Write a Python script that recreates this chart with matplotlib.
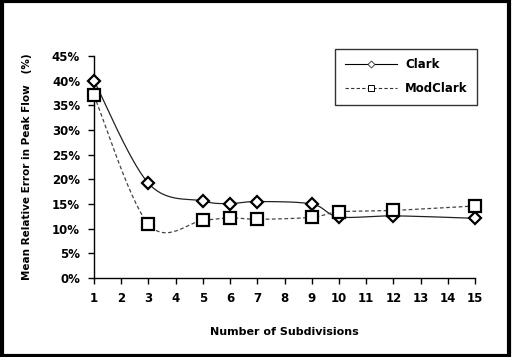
import numpy as np
import matplotlib
matplotlib.use("Agg")
import matplotlib.pyplot as plt
from matplotlib.patches import Rectangle
from matplotlib.ticker import MultipleLocator, FuncFormatter

subdivisions = [1, 3, 5, 6, 7, 9, 10, 12, 15]
clark = [40.0, 19.2, 15.6, 15.1, 15.5, 15.0, 12.4, 12.6, 12.1]
modclark = [37.0, 10.9, 11.7, 12.2, 11.9, 12.3, 13.4, 13.7, 14.6]


def smooth(x, y, n=30, t=0.5):
    # Excel-like smoothed line: cardinal spline through the points
    x = np.asarray(x, float)
    y = np.asarray(y, float)
    px = np.concatenate([[x[0]], x, [x[-1]]])
    py = np.concatenate([[y[0]], y, [y[-1]]])
    xs, ys = [], []
    for i in range(1, len(px) - 2):
        p0 = np.array([px[i], py[i]])
        p3 = np.array([px[i + 1], py[i + 1]])
        p1 = p0 + (np.array([px[i + 1], py[i + 1]]) - np.array([px[i - 1], py[i - 1]])) * t / 3
        p2 = p3 - (np.array([px[i + 2], py[i + 2]]) - np.array([px[i], py[i]])) * t / 3
        s = np.linspace(0, 1, n)[:, None]
        b = (1 - s) ** 3 * p0 + 3 * (1 - s) ** 2 * s * p1 + 3 * (1 - s) * s ** 2 * p2 + s ** 3 * p3
        xs.extend(b[:, 0])
        ys.extend(b[:, 1])
    return np.array(xs), np.array(ys)


fig = plt.figure(figsize=(5.13, 3.57), dpi=100)
ax = fig.add_axes([94 / 513, 1 - 278 / 357, (475 - 94) / 513, (278 - 56) / 357])

cx, cy = smooth(subdivisions, clark)
mx, my = smooth(subdivisions, modclark)
ax.plot(cx, cy, color="#222222", lw=0.9)
ax.plot(mx, my, color="#444444", lw=0.9, ls=(0, (3, 2)))
ax.plot(subdivisions, clark, ls="none", marker="D", ms=6.5, mfc="white",
        mec="black", mew=1.6, clip_on=False, zorder=5)
ax.plot(subdivisions, modclark, ls="none", marker="s", ms=8, mfc="white",
        mec="black", mew=1.6, clip_on=False, zorder=5)

# legend entries
ax.plot([], [], color="black", lw=0.8, marker="D", ms=3.5, mfc="white",
        mec="#444444", mew=0.7, label="Clark")
ax.plot([], [], color="#333333", lw=0.8, ls=(0, (3, 2)), marker="s", ms=5,
        mfc="white", mec="black", mew=0.7, label="ModClark")
handles, labels = ax.get_legend_handles_labels()
leg = ax.legend(handles[-2:], labels[-2:], loc="upper right",
                bbox_to_anchor=((477 - 94) / 381, (278 - 49) / 222),
                borderaxespad=0, frameon=True, fancybox=False,
                edgecolor="black", handlelength=4.4, handletextpad=0.7,
                borderpad=0.8, labelspacing=0.9,
                prop={"weight": "bold", "size": 8.5})
leg.get_frame().set_linewidth(1.0)

ax.set_xlim(1, 15)
ax.set_ylim(0, 45)
ax.xaxis.set_major_locator(MultipleLocator(1))
ax.yaxis.set_major_locator(MultipleLocator(5))
ax.yaxis.set_major_formatter(FuncFormatter(lambda v, p: "%d%%" % v))
ax.spines["top"].set_visible(False)
ax.spines["right"].set_visible(False)
for s in ("left", "bottom"):
    ax.spines[s].set_linewidth(1.0)
ax.tick_params(direction="out", length=4, width=1, labelsize=8.5, pad=6)
for lab in ax.get_xticklabels() + ax.get_yticklabels():
    lab.set_fontweight("bold")

ax.set_xlabel("Number of Subdivisions", fontsize=8, fontweight="bold", labelpad=16)
ax.set_ylabel("Mean Relative Error in Peak Flow   (%)", fontsize=7.5,
              fontweight="bold", labelpad=14)

fig.patches.append(Rectangle((0.003, 0.004), 0.99, 0.992, transform=fig.transFigure,
                             fill=False, edgecolor="black", lw=3))

fig.savefig("out.png", dpi=100)
